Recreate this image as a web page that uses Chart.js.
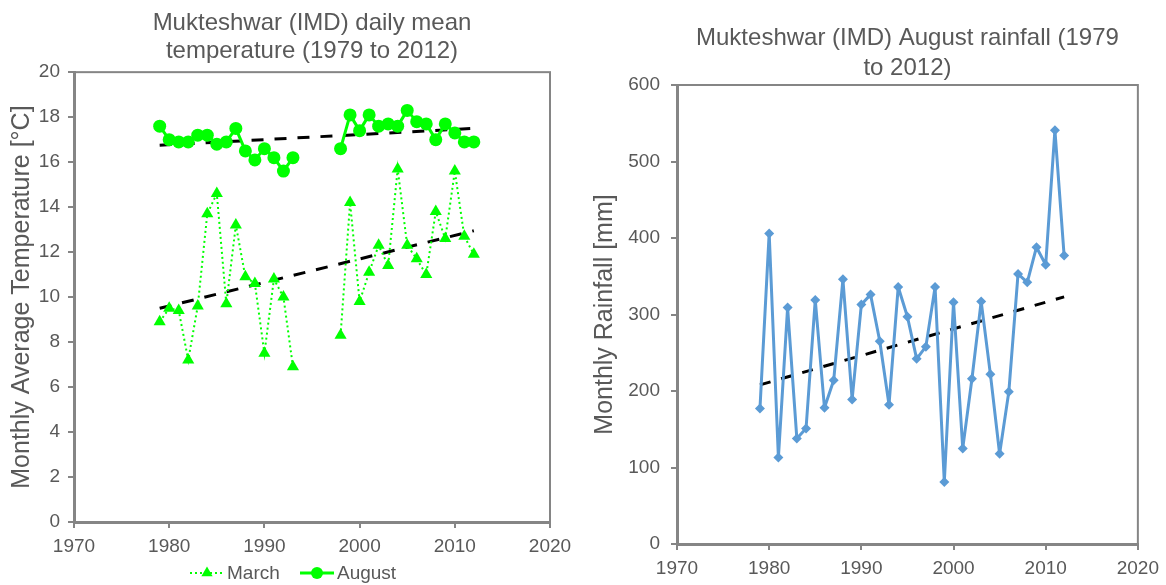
<!DOCTYPE html>
<html>
<head>
<meta charset="utf-8">
<script src="https://cdn.jsdelivr.net/npm/chart.js@4.4.1/dist/chart.umd.min.js"></script>
<style>
  html, body { margin: 0; padding: 0; background: #fff; }
  #wrap { position: relative; width: 1166px; height: 585px; overflow: hidden; }
  .box { position: absolute; top: 0; height: 585px; }
  #left { left: 0; width: 580px; }
  #right { left: 580px; width: 586px; }
</style>
</head>
<body>
<div id="wrap">
  <div class="box" id="left"><canvas id="tempChart" width="580" height="585"></canvas></div>
  <div class="box" id="right"><canvas id="rainChart" width="586" height="585"></canvas></div>
</div>
<script>
// data
const years = [1979, 1980, 1981, 1982, 1983, 1984, 1985, 1986, 1987, 1988, 1989, 1990,
  1991, 1992, 1993, 1994, 1995, 1996, 1997, 1998, 1999, 2000, 2001, 2002, 2003, 2004,
  2005, 2006, 2007, 2008, 2009, 2010, 2011, 2012];
const marchTemp = [8.9, 9.5, 9.4, 7.2, 9.6, 13.7, 14.6, 9.7, 13.2, 10.9, 10.6, 7.5,
  10.8, 10.0, 6.9, null, null, null, null, 8.3, 14.2, 9.8, 11.1, 12.3, 11.4, 15.7,
  12.3, 11.7, 11.0, 13.8, 12.6, 15.6, 12.7, 11.9];
const augustTemp = [17.6, 17.0, 16.9, 16.9, 17.2, 17.2, 16.8, 16.9, 17.5, 16.5, 16.1, 16.6,
  16.2, 15.6, 16.2, null, null, null, null, 16.6, 18.1, 17.4, 18.1, 17.6, 17.7, 17.6,
  18.3, 17.8, 17.7, 17.0, 17.7, 17.3, 16.9, 16.9];
const augustRain = [177, 406, 113, 309, 138, 151, 319, 178, 214, 346, 189, 313,
  326, 265, 182, 336, 297, 242, 258, 336, 81, 316, 125, 216, 317, 222,
  118, 199, 353, 342, 388, 365, 541, 377];

// trend line end points (1979 and 2012)
const trendYears = [1979, 2012];
const marchTrend = [9.5, 12.95];
const augustTrend = [16.75, 17.5];
const rainTrend = [208, 323];

const textColor = '#595959';
const axisColor = '#858585';
const green = '#00ff00';
const blue = '#5b9bd5';

Chart.defaults.font.family = '"Liberation Sans", Arial, sans-serif';
Chart.defaults.color = textColor;

function toPoints(xs, ys) {
    return xs.map((x, i) => ({ x: x, y: ys[i] }));
}

// grey box around the plot area like Excel
const frame = {
    id: 'frame',
    beforeDatasetsDraw(chart) {
        const a = chart.chartArea;
        const ctx = chart.ctx;
        ctx.save();
        ctx.strokeStyle = axisColor;
        ctx.lineWidth = 2;
        ctx.strokeRect(a.left, a.top, a.right - a.left, a.bottom - a.top);
        ctx.restore();
    }
};

// legend with a line sample and the marker, drawn under the x labels
const lineLegend = {
    id: 'lineLegend',
    afterDraw(chart, args, opts) {
        const ctx = chart.ctx;
        ctx.save();
        opts.items.forEach(item => {
            const ds = chart.data.datasets[item.index];
            ctx.strokeStyle = ds.borderColor;
            ctx.lineWidth = ds.borderWidth;
            ctx.setLineDash(ds.borderDash || []);
            ctx.beginPath();
            ctx.moveTo(item.x, opts.y);
            ctx.lineTo(item.x + opts.lineLen, opts.y);
            ctx.stroke();
            ctx.setLineDash([]);
            ctx.fillStyle = ds.pointBackgroundColor;
            ctx.strokeStyle = ds.pointBackgroundColor;
            Chart.helpers.drawPoint(ctx, {
                pointStyle: ds.pointStyle, radius: ds.pointRadius - 0.5, rotation: 0, borderWidth: 0
            }, item.x + opts.lineLen / 2, opts.y);
            ctx.fillStyle = textColor;
            ctx.font = opts.font;
            ctx.textBaseline = 'middle';
            ctx.fillText(ds.label, item.x + opts.lineLen + 3, opts.y + 1);
        });
        ctx.restore();
    }
};

// LEFT CHART - temperature
new Chart(document.getElementById('tempChart'), {
    type: 'line',
    data: {
        datasets: [{
            label: 'March',
            data: toPoints(years, marchTemp),
            borderColor: green,
            borderWidth: 2,
            borderDash: [2, 3],
            pointStyle: 'triangle',
            pointRadius: 7,
            pointBackgroundColor: green,
            pointBorderWidth: 0,
            spanGaps: false
        }, {
            label: 'August',
            data: toPoints(years, augustTemp),
            borderColor: green,
            borderWidth: 3,
            borderJoinStyle: 'round',
            pointStyle: 'circle',
            pointRadius: 6.5,
            pointBackgroundColor: green,
            pointBorderWidth: 0,
            spanGaps: false
        }, {
            label: 'March trend',
            data: toPoints(trendYears, marchTrend),
            borderColor: '#000000',
            borderWidth: 3,
            borderDash: [12, 11],
            pointRadius: 0
        }, {
            label: 'August trend',
            data: toPoints(trendYears, augustTrend),
            borderColor: '#000000',
            borderWidth: 3,
            borderDash: [12, 11],
            pointRadius: 0
        }]
    },
    options: {
        responsive: false,
        animation: false,
        layout: { padding: { left: 0, right: 30, top: 0, bottom: 0 } },
        plugins: {
            title: {
                display: true,
                fullSize: false,
                text: ['Mukteshwar (IMD) daily mean', 'temperature (1979 to 2012)'],
                font: { size: 24, weight: 'normal', lineHeight: 1.17 },
                color: textColor,
                padding: { top: 9, bottom: 7 }
            },
            legend: { display: false },
            tooltip: { enabled: false },
            lineLegend: {
                y: 573,
                lineLen: 34,
                font: '19px "Liberation Sans", Arial, sans-serif',
                items: [{ index: 0, x: 190 }, { index: 1, x: 300 }]
            }
        },
        scales: {
            x: {
                type: 'linear',
                min: 1970,
                max: 2020,
                ticks: { stepSize: 10, color: textColor, font: { size: 19 }, padding: 7,
                    callback: v => String(v) },
                grid: { drawOnChartArea: false, color: axisColor, lineWidth: 2, tickLength: 6 },
                border: { color: axisColor, width: 3 },
                afterFit: s => { s.height = 63; }
            },
            y: {
                min: 0,
                max: 20,
                ticks: { stepSize: 2, color: textColor, font: { size: 19 }, padding: 8 },
                grid: { drawOnChartArea: false, color: axisColor, lineWidth: 2, tickLength: 6 },
                border: { color: axisColor, width: 3 },
                title: {
                    display: true,
                    text: 'Monthly Average Temperature [°C]',
                    color: textColor,
                    font: { size: 25 },
                    padding: { top: 7, bottom: 0 }
                },
                afterFit: s => { s.width = 74; }
            }
        }
    },
    plugins: [frame, lineLegend]
});

// RIGHT CHART - rainfall
new Chart(document.getElementById('rainChart'), {
    type: 'line',
    data: {
        datasets: [{
            label: 'August rainfall',
            data: toPoints(years, augustRain),
            borderColor: blue,
            borderWidth: 3,
            borderJoinStyle: 'round',
            pointStyle: 'rectRot',
            pointRadius: 5,
            pointBackgroundColor: blue,
            pointBorderWidth: 0
        }, {
            label: 'Trend',
            data: toPoints(trendYears, rainTrend),
            borderColor: '#000000',
            borderWidth: 3,
            borderDash: [11, 11],
            pointRadius: 0
        }]
    },
    options: {
        responsive: false,
        animation: false,
        layout: { padding: { left: 0, right: 28, top: 0, bottom: 0 } },
        plugins: {
            title: {
                display: true,
                fullSize: false,
                text: ['Mukteshwar (IMD) August rainfall (1979', 'to 2012)'],
                font: { size: 24, weight: 'normal', lineHeight: 1.25 },
                color: textColor,
                padding: { top: 23, bottom: 2 }
            },
            legend: { display: false },
            tooltip: { enabled: false }
        },
        scales: {
            x: {
                type: 'linear',
                min: 1970,
                max: 2020,
                ticks: { stepSize: 10, color: textColor, font: { size: 19 }, padding: 7,
                    callback: v => String(v) },
                grid: { drawOnChartArea: false, color: axisColor, lineWidth: 2, tickLength: 6 },
                border: { color: axisColor, width: 3 },
                afterFit: s => { s.height = 41; }
            },
            y: {
                min: 0,
                max: 600,
                ticks: { stepSize: 100, color: textColor, font: { size: 19 }, padding: 11 },
                grid: { drawOnChartArea: false, color: axisColor, lineWidth: 2, tickLength: 6 },
                border: { color: axisColor, width: 3 },
                title: {
                    display: true,
                    text: 'Monthly Rainfall [mm]',
                    color: textColor,
                    font: { size: 25 },
                    padding: { top: 10, bottom: 0 }
                },
                afterFit: s => { s.width = 97; }
            }
        }
    },
    plugins: [frame]
});
</script>
</body>
</html>
